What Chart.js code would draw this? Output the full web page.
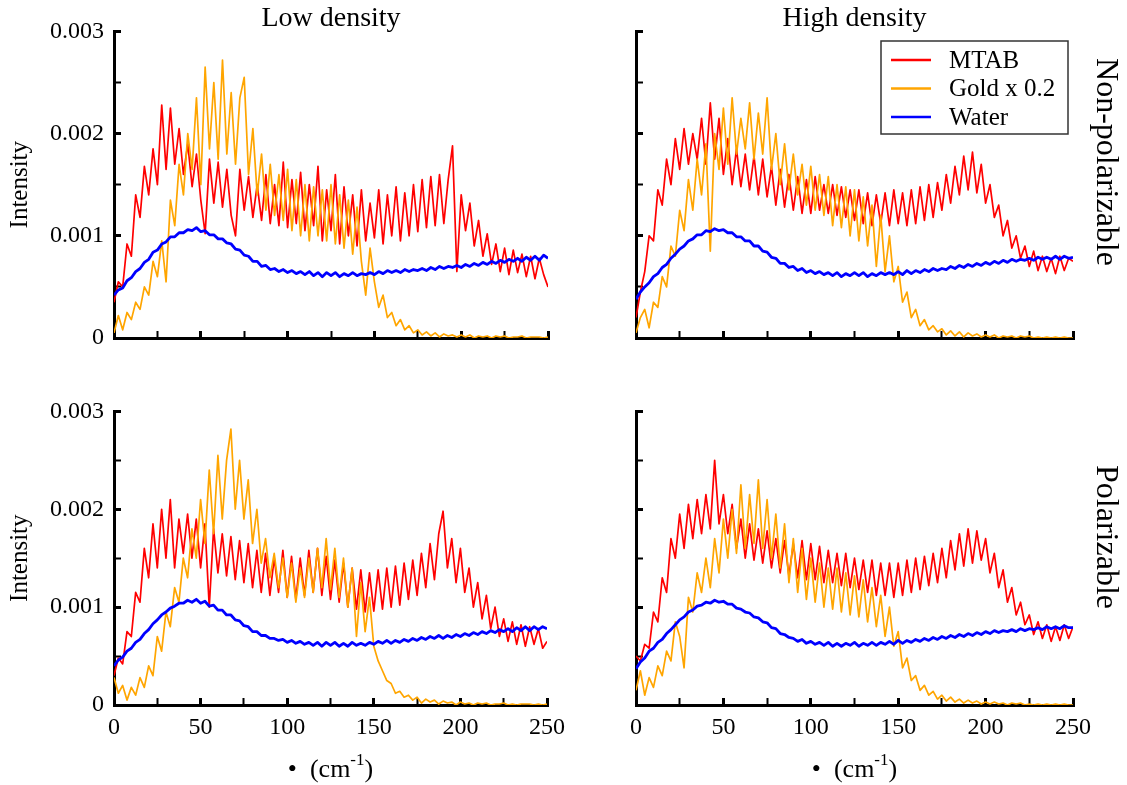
<!DOCTYPE html>
<html>
<head>
<meta charset="utf-8">
<title>Low-frequency spectra</title>
<script src="https://cdn.jsdelivr.net/npm/chart.js@4.4.0/dist/chart.umd.min.js"></script>
<style>
  body { margin: 0; background: #fff; }
  #page { position: relative; width: 1127px; height: 785px; overflow: hidden; }
  .panel { position: absolute; }
</style>
</head>
<body>
<div id="page">
  <div class="panel" style="left:0px;top:0px"><canvas id="lowNonpol" width="580" height="380"></canvas></div>
  <div class="panel" style="left:560px;top:0px"><canvas id="highNonpol" width="567" height="380"></canvas></div>
  <div class="panel" style="left:0px;top:380px"><canvas id="lowPol" width="580" height="405"></canvas></div>
  <div class="panel" style="left:560px;top:380px"><canvas id="highPol" width="567" height="405"></canvas></div>
</div>
<script>
// wavenumber (cm-1)
const wavenumber = [
  0, 2.5, 5, 7.5, 10, 12.5, 15, 17.5, 20, 22.5,
  25, 27.5, 30, 32.5, 35, 37.5, 40, 42.5, 45, 47.5,
  50, 52.5, 55, 57.5, 60, 62.5, 65, 67.5, 70, 72.5,
  75, 77.5, 80, 82.5, 85, 87.5, 90, 92.5, 95, 97.5,
  100, 102.5, 105, 107.5, 110, 112.5, 115, 117.5, 120, 122.5,
  125, 127.5, 130, 132.5, 135, 137.5, 140, 142.5, 145, 147.5,
  150, 152.5, 155, 157.5, 160, 162.5, 165, 167.5, 170, 172.5,
  175, 177.5, 180, 182.5, 185, 187.5, 190, 192.5, 195, 197.5,
  200, 202.5, 205, 207.5, 210, 212.5, 215, 217.5, 220, 222.5,
  225, 227.5, 230, 232.5, 235, 237.5, 240, 242.5, 245, 247.5,
  250
];

// intensities below are written in units of 1e-5
const INTENSITY_UNIT = 1e-5;

// Low density, non-polarizable
const lowNonpolMTAB = [
  35, 55, 50, 92, 80, 140, 118, 168, 140, 185,
  150, 228, 165, 225, 170, 205, 160, 190, 148, 180,
  135, 102, 175, 132, 172, 128, 165, 120, 100, 165,
  125, 158, 118, 150, 115, 160, 112, 150, 110, 172,
  108, 155, 112, 162, 105, 150, 110, 168, 95, 145,
  105, 160, 92, 148, 100, 140, 90, 145, 95, 132,
  98, 145, 92, 140, 100, 148, 95, 142, 100, 150,
  104, 155, 108, 158, 110, 160, 112, 155, 188, 65,
  140, 105, 132, 90, 115, 80, 102, 72, 92, 65,
  88, 62, 86, 64, 82, 60, 80, 58, 78, 62,
  50
];
const lowNonpolGold = [
  5, 22, 8, 25, 18, 35, 28, 50, 42, 75,
  60, 95, 55, 135, 110, 170, 140, 200, 165, 235,
  150, 265, 185, 250, 175, 272, 180, 240, 170, 235,
  255, 160, 205, 140, 180, 125, 170, 120, 160, 115,
  165, 105, 155, 100, 150, 95, 148, 100, 145, 95,
  150, 92, 140, 88, 135, 82, 128, 75, 42, 88,
  55, 30, 42, 20, 25, 12, 18, 8, 12, 5,
  8, 3, 6, 2, 5, 1, 4, 2, 3, 1,
  3, 1, 3, 0, 2, 1, 2, 0, 2, 1,
  2, 0, 1, 1, 2, 0, 1, 1, 1, 0,
  1
];
const lowNonpolWater = [
  42, 47, 49, 56, 59, 65, 68, 74, 77, 84,
  86, 92, 94, 99, 99, 103, 103, 106, 105, 108,
  104, 105, 101, 101, 97, 97, 93, 92, 87, 86,
  81, 80, 75, 75, 70, 71, 67, 68, 65, 67,
  64, 66, 63, 65, 62, 65, 61, 64, 60, 64,
  61, 64, 60, 63, 61, 64, 61, 63, 62, 64,
  62, 65, 63, 66, 64, 66, 64, 67, 65, 67,
  66, 68, 66, 69, 67, 70, 68, 70, 69, 71,
  69, 72, 70, 73, 71, 74, 72, 75, 73, 76,
  74, 77, 75, 78, 75, 79, 76, 80, 76, 81,
  78
];

// High density, non-polarizable
const highNonpolMTAB = [
  20, 45, 65, 100, 95, 145, 130, 175, 150, 195,
  165, 205, 170, 200, 175, 215, 170, 230, 175, 215,
  160, 195, 150, 185, 148, 180, 145, 178, 140, 175,
  138, 168, 130, 165, 128, 160, 125, 158, 122, 155,
  122, 158, 125, 150, 122, 150, 120, 148, 118, 145,
  115, 145, 112, 142, 110, 140, 112, 142, 110, 145,
  112, 142, 110, 145, 112, 148, 115, 150, 118, 152,
  125, 160, 132, 168, 140, 178, 145, 182, 142, 170,
  132, 150, 118, 130, 100, 115, 88, 100, 78, 90,
  70, 85, 66, 80, 65, 78, 63, 80, 66, 78,
  75
];
const highNonpolGold = [
  5, 20, 28, 10, 35, 30, 60, 50, 90, 80,
  125, 105, 155, 125, 175, 140, 190, 85, 200, 165,
  225, 170, 235, 180, 215, 185, 230, 175, 220, 180,
  235, 165, 200, 150, 190, 145, 180, 140, 170, 130,
  168, 125, 160, 120, 158, 110, 150, 108, 148, 100,
  145, 95, 138, 90, 130, 70, 120, 65, 100, 55,
  70, 35, 45, 20, 28, 12, 18, 8, 12, 6,
  9, 3, 7, 2, 6, 1, 5, 2, 4, 1,
  3, 1, 3, 0, 2, 1, 2, 0, 2, 1,
  2, 0, 1, 0, 1, 0, 1, 0, 1, 0,
  0
];
const highNonpolWater = [
  38, 45, 50, 54, 60, 63, 69, 72, 78, 82,
  87, 90, 95, 97, 101, 101, 105, 104, 107, 105,
  106, 103, 103, 99, 99, 95, 95, 90, 90, 85,
  84, 79, 78, 73, 73, 69, 70, 66, 68, 64,
  66, 63, 65, 62, 64, 61, 64, 60, 63, 61,
  64, 61, 64, 60, 63, 61, 64, 62, 64, 62,
  65, 62, 66, 63, 66, 64, 67, 65, 68, 66,
  68, 67, 70, 68, 71, 69, 72, 70, 73, 71,
  74, 72, 75, 73, 76, 74, 77, 75, 77, 76,
  78, 76, 79, 77, 79, 77, 80, 77, 80, 78,
  79
];

// Low density, polarizable
const lowPolMTAB = [
  30, 48, 42, 75, 70, 115, 105, 160, 130, 185,
  140, 200, 150, 210, 140, 190, 155, 195, 150, 190,
  140, 185, 100, 180, 135, 175, 132, 172, 128, 168,
  125, 165, 120, 158, 115, 155, 112, 150, 115, 158,
  110, 152, 108, 150, 112, 158, 115, 160, 112, 152,
  108, 148, 105, 145, 100, 140, 98, 138, 95, 135,
  96, 138, 98, 140, 100, 142, 102, 145, 108, 148,
  112, 155, 120, 165, 128, 175, 198, 140, 170, 125,
  160, 115, 140, 100, 125, 88, 112, 78, 100, 70,
  88, 65, 85, 62, 82, 60, 80, 62, 78, 58,
  65
];
const lowPolGold = [
  28, 12, 20, 5, 18, 10, 28, 18, 40, 30,
  70, 55, 95, 80, 120, 105, 150, 130, 180, 150,
  210, 165, 240, 175, 255, 190, 250, 282, 200, 250,
  190, 230, 165, 200, 145, 170, 130, 155, 120, 150,
  110, 145, 105, 140, 110, 150, 115, 160, 120, 170,
  118, 160, 110, 150, 100, 140, 70, 125, 75, 110,
  60, 45, 35, 25, 22, 12, 14, 8, 10, 5,
  8, 2, 6, 3, 5, 1, 4, 2, 3, 0,
  3, 1, 2, 0, 2, 1, 2, 0, 1, 1,
  2, 0, 1, 0, 1, 1, 1, 0, 1, 0,
  1
];
const lowPolWater = [
  40, 46, 49, 55, 58, 64, 67, 73, 77, 83,
  87, 92, 95, 99, 101, 104, 104, 107, 105, 108,
  104, 106, 101, 102, 97, 97, 92, 92, 87, 86,
  81, 80, 75, 75, 71, 71, 68, 68, 66, 67,
  64, 66, 63, 65, 62, 64, 61, 64, 60, 64,
  61, 64, 60, 63, 60, 64, 61, 63, 61, 64,
  62, 65, 63, 66, 63, 66, 64, 67, 65, 68,
  66, 69, 67, 70, 68, 71, 68, 71, 69, 72,
  70, 73, 71, 74, 72, 75, 73, 76, 74, 77,
  75, 78, 75, 79, 76, 80, 76, 80, 77, 80,
  78
];

// High density, polarizable
const highPolMTAB = [
  50, 45, 62, 58, 95, 85, 130, 115, 170, 150,
  195, 160, 205, 170, 210, 175, 215, 180, 250, 185,
  215, 175, 205, 160, 190, 150, 185, 148, 180, 145,
  178, 140, 170, 135, 168, 132, 165, 130, 168, 128,
  165, 128, 162, 125, 158, 125, 155, 122, 155, 120,
  150, 118, 148, 115, 148, 112, 145, 112, 145, 110,
  145, 112, 148, 115, 150, 118, 152, 122, 155, 125,
  160, 130, 168, 138, 175, 142, 180, 145, 178, 148,
  170, 135, 155, 120, 138, 105, 120, 92, 105, 82,
  92, 72, 85, 68, 82, 65, 80, 66, 82, 68,
  80
];
const highPolGold = [
  15, 35, 10, 28, 18, 40, 30, 55, 45, 85,
  70, 38, 110, 95, 135, 115, 150, 120, 170, 135,
  190, 150, 200, 155, 225, 160, 215, 165, 230, 160,
  210, 150, 195, 140, 185, 125, 170, 115, 160, 108,
  150, 105, 145, 100, 140, 98, 140, 95, 135, 92,
  132, 90, 128, 85, 120, 80, 112, 70, 100, 60,
  75, 38, 48, 25, 30, 15, 20, 10, 14, 6,
  10, 4, 8, 3, 6, 2, 5, 2, 4, 1,
  3, 1, 3, 1, 2, 0, 2, 1, 2, 0,
  1, 0, 1, 0, 1, 0, 1, 0, 1, 0,
  0
];
const highPolWater = [
  37, 44, 48, 55, 58, 64, 67, 73, 77, 82,
  87, 90, 95, 97, 101, 102, 105, 104, 107, 105,
  106, 103, 103, 99, 98, 95, 94, 90, 89, 85,
  84, 79, 78, 73, 72, 69, 68, 65, 67, 63,
  65, 62, 64, 61, 64, 60, 63, 60, 63, 61,
  64, 60, 63, 61, 64, 61, 64, 62, 65, 62,
  66, 63, 66, 64, 67, 65, 68, 66, 69, 67,
  70, 68, 71, 69, 72, 70, 73, 71, 74, 72,
  75, 73, 76, 74, 76, 75, 77, 75, 78, 76,
  78, 77, 79, 77, 80, 78, 80, 78, 81, 79,
  79
];

const seriesNames = ['MTAB', 'Gold x 0.2', 'Water'];
const seriesColors = ['#ff0000', '#ffa500', '#0000ff'];
const seriesWidths = [1.7, 1.7, 2.8];
const xTickLabels = ['0', '50', '100', '150', '200', '250'];
const yTickLabels = ['0', '0.001', '0.002', '0.003'];

const SERIF = "'Liberation Serif', 'Times New Roman', serif";

function points(ys) {
  return wavenumber.map((x, i) => ({ x: x, y: ys[i] * INTENSITY_UNIT }));
}

function yMajorIndex(v) {
  const k = Math.round(v / 0.001 * 1e6) / 1e6;
  return Number.isInteger(k) ? k : -1;
}

// titles, row labels, legend and x title drawn on the canvas
const panelText = {
  id: 'panelText',
  afterDraw(chart, args, o) {
    const ctx = chart.ctx;
    const a = chart.chartArea;
    const cx = (a.left + a.right) / 2;
    ctx.save();
    ctx.fillStyle = '#000';
    if (o.title) {
      ctx.font = '28px ' + SERIF;
      ctx.textAlign = 'center';
      ctx.textBaseline = 'alphabetic';
      ctx.fillText(o.title, cx, 26);
    }
    if (o.row) {
      ctx.save();
      ctx.translate(o.row.x, o.row.y);
      ctx.rotate(Math.PI / 2);
      ctx.font = '32px ' + SERIF;
      ctx.textAlign = 'center';
      ctx.textBaseline = 'middle';
      ctx.fillText(o.row.text, 0, 0);
      ctx.restore();
    }
    if (o.xTitle) {
      const big = '26px ' + SERIF, small = '17px ' + SERIF;
      const p1 = '\u2022  (cm', p2 = '-1', p3 = ')';
      ctx.font = big; const w1 = ctx.measureText(p1).width, w3 = ctx.measureText(p3).width;
      ctx.font = small; const w2 = ctx.measureText(p2).width;
      let x = cx - (w1 + w2 + w3) / 2;
      const base = o.xTitle.y;
      ctx.textAlign = 'left';
      ctx.textBaseline = 'alphabetic';
      ctx.font = big; ctx.fillText(p1, x, base); x += w1;
      ctx.font = small; ctx.fillText(p2, x, base - 12); x += w2;
      ctx.font = big; ctx.fillText(p3, x, base);
    }
    if (o.legend) {
      const L = o.legend;
      ctx.strokeStyle = '#333';
      ctx.lineWidth = 1.5;
      ctx.strokeRect(L.x, L.y, L.w, L.h);
      ctx.font = '25px ' + SERIF;
      ctx.textAlign = 'left';
      ctx.textBaseline = 'middle';
      seriesNames.forEach((name, k) => {
        const ly = L.y + 19 + k * 28.5;
        ctx.strokeStyle = seriesColors[k];
        ctx.lineWidth = 2.5;
        ctx.beginPath();
        ctx.moveTo(L.x + 10, ly);
        ctx.lineTo(L.x + 50, ly);
        ctx.stroke();
        ctx.fillStyle = '#000';
        ctx.fillText(name, L.x + 68, ly + 1);
      });
    }
    ctx.restore();
  }
};

function makePanel(id, series, p) {
  const datasets = series.map((ys, k) => ({
    label: seriesNames[k],
    data: points(ys),
    borderColor: seriesColors[k],
    borderWidth: seriesWidths[k],
    borderJoinStyle: 'round',
    pointRadius: 0,
    tension: 0,
    order: 2 - k
  }));
  return new Chart(document.getElementById(id), {
    type: 'line',
    data: { datasets: datasets },
    options: {
      responsive: false,
      animation: false,
      layout: { padding: { left: 0, top: p.padTop, right: p.padRight, bottom: 0 } },
      plugins: {
        legend: { display: false },
        tooltip: { enabled: false },
        panelText: p.text
      },
      scales: {
        x: {
          type: 'linear',
          min: 0,
          max: 250,
          afterFit: s => { s.height = p.xHeight; },
          border: { display: true, color: '#000', width: 3 },
          grid: {
            drawOnChartArea: false,
            drawTicks: true,
            tickLength: -7,
            tickColor: '#000',
            tickWidth: c => (c.tick && c.tick.value % 50 === 0) ? 3 : 2
          },
          ticks: {
            stepSize: 25,
            autoSkip: false,
            maxRotation: 0,
            padding: 15,
            color: '#000',
            font: { family: SERIF, size: 24 },
            callback: v => (p.showX && v % 50 === 0) ? xTickLabels[v / 50] : ''
          }
        },
        y: {
          type: 'linear',
          min: 0,
          max: 0.003,
          afterFit: s => { s.width = p.yWidth; },
          border: { display: true, color: '#000', width: 3 },
          grid: {
            drawOnChartArea: false,
            drawTicks: true,
            tickLength: -7,
            tickColor: '#000',
            tickWidth: c => (c.tick && yMajorIndex(c.tick.value) >= 0) ? 3 : 2
          },
          ticks: {
            stepSize: 0.0005,
            autoSkip: false,
            padding: 17,
            color: '#000',
            font: { family: SERIF, size: 24 },
            callback: v => {
              const k = yMajorIndex(v);
              return (p.showY && k >= 0) ? yTickLabels[k] : '';
            }
          },
          title: {
            display: p.showY,
            text: 'Intensity',
            color: '#000',
            font: { family: SERIF, size: 25 },
            padding: { top: 5, bottom: 0 }
          }
        }
      }
    },
    plugins: [panelText]
  });
}

makePanel('lowNonpol', [lowNonpolMTAB, lowNonpolGold, lowNonpolWater], {
  padTop: 31, padRight: 32, yWidth: 114, xHeight: 42, showX: false, showY: true,
  text: { title: 'Low density' }
});
makePanel('highNonpol', [highNonpolMTAB, highNonpolGold, highNonpolWater], {
  padTop: 31, padRight: 54, yWidth: 76, xHeight: 42, showX: false, showY: false,
  text: {
    title: 'High density',
    row: { text: 'Non-polarizable', x: 545, y: 162 },
    legend: { x: 321, y: 41, w: 187, h: 93 }
  }
});
makePanel('lowPol', [lowPolMTAB, lowPolGold, lowPolWater], {
  padTop: 19, padRight: 32, yWidth: 114, xHeight: 80, showX: true, showY: true,
  text: { xTitle: { y: 397 } }
});
makePanel('highPol', [highPolMTAB, highPolGold, highPolWater], {
  padTop: 19, padRight: 54, yWidth: 76, xHeight: 80, showX: true, showY: false,
  text: {
    row: { text: 'Polarizable', x: 545, y: 157 },
    xTitle: { y: 397 }
  }
});
</script>
</body>
</html>
